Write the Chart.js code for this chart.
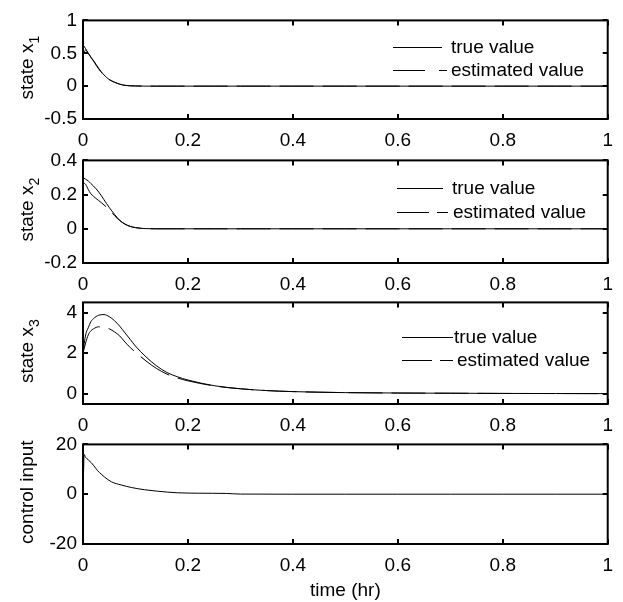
<!DOCTYPE html>
<html>
<head>
<meta charset="utf-8">
<script src="https://cdn.jsdelivr.net/npm/chart.js@4.4.0/dist/chart.umd.min.js"></script>
<style>
    html, body { margin: 0; padding: 0; background: #fff; overflow: hidden; }
    canvas { position: absolute; left: 0; }
</style>
</head>
<body>
<canvas id="chartX1" width="623" height="148" style="top:3px"></canvas>
<canvas id="chartX2" width="623" height="152" style="top:143px"></canvas>
<canvas id="chartX3" width="623" height="151" style="top:285px"></canvas>
<canvas id="chartU" width="623" height="175" style="top:427px"></canvas>
<script>
// ===== DATOS =====
const tiempo = [0, 0.005, 0.01, 0.015, 0.02, 0.03, 0.04, 0.05, 0.06, 0.07, 0.08, 0.09, 0.1,
    0.12, 0.14, 0.16, 0.18, 0.2, 0.25, 0.3, 0.35, 0.4, 0.5, 0.6, 0.7, 0.8, 0.9, 1.0];

const x1Real     = [0.63, 0.57, 0.50, 0.44, 0.39, 0.27, 0.17, 0.10, 0.06, 0.03, 0.012, 0.005, 0.002,
    0, 0, 0, 0, 0, 0, 0, 0, 0, 0, 0, 0, 0, 0, 0];
const x1Estimado = [0.48, 0.55, 0.50, 0.44, 0.38, 0.26, 0.165, 0.10, 0.06, 0.03, 0.012, 0.005, 0.003,
    0.001, 0, 0, 0, 0, 0, 0, 0, 0, 0, 0, 0, 0, 0, 0];

const x2Real     = [0.30, 0.29, 0.28, 0.265, 0.25, 0.215, 0.17, 0.125, 0.085, 0.05, 0.028, 0.014, 0.007,
    0.001, 0, 0, 0, 0, 0, 0, 0, 0, 0, 0, 0, 0, 0, 0];
const x2Estimado = [0.27, 0.26, 0.23, 0.205, 0.19, 0.165, 0.14, 0.11, 0.077, 0.048, 0.027, 0.014, 0.007,
    0.001, 0, 0, 0, 0, 0, 0, 0, 0, 0, 0, 0, 0, 0, 0];

const x3Real     = [2.0, 2.9, 3.25, 3.55, 3.7, 3.87, 3.9, 3.8, 3.6, 3.33, 3.0, 2.68, 2.35,
    1.82, 1.38, 1.05, 0.84, 0.68, 0.4, 0.25, 0.16, 0.11, 0.06, 0.04, 0.03, 0.02, 0.015, 0.01];
const x3Estimado = [2.0, 2.5, 2.9, 3.1, 3.2, 3.3, 3.3, 3.2, 3.05, 2.85, 2.55, 2.28, 2.05,
    1.62, 1.25, 0.97, 0.78, 0.64, 0.39, 0.25, 0.16, 0.11, 0.06, 0.04, 0.03, 0.02, 0.015, 0.01];

const tiempoControl = [0, 0.001, 0.002, 0.005, 0.01, 0.016, 0.02, 0.028, 0.035, 0.041, 0.054, 0.073, 0.092,
    0.117, 0.142, 0.18, 0.22, 0.273, 0.3, 0.4, 0.5, 0.6, 0.7, 0.8, 0.9, 1.0];
const control = [16, 9, 16, 14.8, 13.8, 12.6, 11.6, 9.4, 8.0, 6.9, 5.0, 3.7, 2.7,
    1.8, 1.2, 0.57, 0.4, 0.3, 0.05, 0, 0, 0, 0, 0, 0, 0];

const ticksTiempo = [0, 0.2, 0.4, 0.6, 0.8, 1];
const ticksX1 = [-0.5, 0, 0.5, 1];
const ticksX2 = [-0.2, 0, 0.2, 0.4];
const ticksX3 = [0, 2, 4];
const ticksU  = [-20, 0, 20];

const nombresSeries = ['true value', 'estimated value'];

// ===== ESTILO GENERAL =====
Chart.defaults.font.family = '"Liberation Sans", Arial, sans-serif';
Chart.defaults.font.size = 19;
Chart.defaults.color = '#000';

function puntos(xs, ys) {
    return xs.map((x, i) => ({ x: x, y: ys[i] }));
}

// Marco con marcas hacia dentro
const marcoPlugin = {
    id: 'marco',
    afterDatasetsDraw(chart) {
        const { ctx, chartArea: a, scales } = chart;
        ctx.save();
        ctx.strokeStyle = '#000';
        ctx.lineWidth = 2;
        ctx.strokeRect(a.left, a.top, a.right - a.left, a.bottom - a.top);
        ctx.beginPath();
        scales.x.ticks.forEach(t => {
            const px = Math.round(scales.x.getPixelForValue(t.value));
            ctx.moveTo(px, a.bottom); ctx.lineTo(px, a.bottom - 5);
            ctx.moveTo(px, a.top); ctx.lineTo(px, a.top + 5);
        });
        scales.y.ticks.forEach(t => {
            const py = Math.round(scales.y.getPixelForValue(t.value));
            ctx.moveTo(a.left, py); ctx.lineTo(a.left + 5, py);
            ctx.moveTo(a.right, py); ctx.lineTo(a.right - 5, py);
        });
        ctx.stroke();
        ctx.restore();
    }
};

// Titulo vertical con subindice
const tituloYPlugin = {
    id: 'tituloY',
    afterDraw(chart, args, opts) {
        if (!opts.texto) return;
        const { ctx, chartArea: a } = chart;
        ctx.save();
        ctx.fillStyle = '#000';
        const fuente = '19px "Liberation Sans", Arial, sans-serif';
        const fuenteSub = '14px "Liberation Sans", Arial, sans-serif';
        ctx.font = fuente;
        const w1 = ctx.measureText(opts.texto).width;
        ctx.font = fuenteSub;
        const w2 = opts.sub ? ctx.measureText(opts.sub).width : 0;
        const total = w1 + w2;
        ctx.translate(33, (a.top + a.bottom) / 2 - 2);
        ctx.rotate(-Math.PI / 2);
        ctx.textBaseline = 'alphabetic';
        ctx.textAlign = 'left';
        ctx.font = fuente;
        ctx.fillText(opts.texto, -total / 2, 0);
        if (opts.sub) {
            ctx.font = fuenteSub;
            ctx.fillText(opts.sub, -total / 2 + w1, 6);
        }
        ctx.restore();
    }
};

// Leyenda dibujada a mano
const leyendaPlugin = {
    id: 'leyenda',
    afterDraw(chart, args, opts) {
        if (!opts.items) return;
        const { ctx, chartArea: a } = chart;
        ctx.save();
        ctx.strokeStyle = '#000';
        ctx.fillStyle = '#000';
        ctx.lineWidth = 1;
        ctx.font = '19px "Liberation Sans", Arial, sans-serif';
        ctx.textBaseline = 'middle';
        opts.items.forEach((it, i) => {
            const y = Math.round(a.top + it.dy) + 0.5;
            const x0 = a.left + opts.x0;
            ctx.setLineDash(it.dash || []);
            ctx.beginPath();
            ctx.moveTo(x0, y);
            ctx.lineTo(x0 + it.len, y);
            ctx.stroke();
            ctx.setLineDash([]);
            ctx.fillText(nombresSeries[i], a.left + it.tx, y);
        });
        ctx.restore();
    }
};

function crearPanel(id, datasets, yMin, yMax, yTicks, titulo, sub, leyenda, conTituloX) {
    const ctx = document.getElementById(id);
    return new Chart(ctx, {
        type: 'line',
        data: { datasets: datasets },
        options: {
            responsive: false,
            animation: false,
            parsing: false,
            layout: { padding: { top: 12, right: 13, bottom: 0, left: 0 } },
            plugins: {
                legend: { display: false },
                tooltip: { enabled: false },
                tituloY: { texto: titulo, sub: sub },
                leyenda: leyenda || {}
            },
            scales: {
                x: {
                    type: 'linear',
                    min: 0,
                    max: 1,
                    grid: { display: false, drawTicks: false },
                    border: { display: false },
                    afterBuildTicks: s => { s.ticks = ticksTiempo.map(v => ({ value: v })); },
                    afterFit: s => { s.height = conTituloX ? 58 : 32; },
                    ticks: { padding: 10, maxRotation: 0, autoSkip: false, callback: v => String(v) },
                    title: {
                        display: !!conTituloX,
                        text: 'time (hr)',
                        padding: { top: 2, bottom: 0 },
                        font: { size: 19 }
                    }
                },
                y: {
                    type: 'linear',
                    min: yMin,
                    max: yMax,
                    grid: { display: false, drawTicks: false },
                    border: { display: false },
                    afterBuildTicks: s => { s.ticks = yTicks.map(v => ({ value: v })); },
                    afterFit: s => { s.width = 83; },
                    ticks: { padding: 6, autoSkip: false, callback: v => String(v) }
                }
            }
        },
        plugins: [marcoPlugin, tituloYPlugin, leyendaPlugin]
    });
}

function serie(xs, ys, discontinua) {
    return {
        data: puntos(xs, ys),
        borderColor: '#000',
        borderWidth: 1,
        pointRadius: 0,
        fill: false,
        cubicInterpolationMode: 'monotone',
        borderDash: discontinua ? [34, 9] : []
    };
}

document.addEventListener('DOMContentLoaded', function() {
    crearPanel('chartX1',
        [serie(tiempo, x1Real, false), serie(tiempo, x1Estimado, true)],
        -0.5, 1, ticksX1, 'state x', '1',
        { x0: 310, items: [ { dy: 27, len: 49, tx: 368 }, { dy: 50, len: 54, tx: 368, dash: [32, 14] } ] },
        false);

    crearPanel('chartX2',
        [serie(tiempo, x2Real, false), serie(tiempo, x2Estimado, true)],
        -0.2, 0.4, ticksX2, 'state x', '2',
        { x0: 314, items: [ { dy: 28, len: 46, tx: 369 }, { dy: 52, len: 51, tx: 370, dash: [32, 8] } ] },
        false);

    crearPanel('chartX3',
        [serie(tiempo, x3Real, false), serie(tiempo, x3Estimado, true)],
        -0.5, 4.5, ticksX3, 'state x', '3',
        { x0: 319, items: [ { dy: 35, len: 51, tx: 371 }, { dy: 58, len: 51, tx: 374, dash: [30, 8] } ] },
        false);

    crearPanel('chartU', [serie(tiempoControl, control, false)],
        -20, 20, ticksU, 'control input', '', null, true);
});
</script>
</body>
</html>
